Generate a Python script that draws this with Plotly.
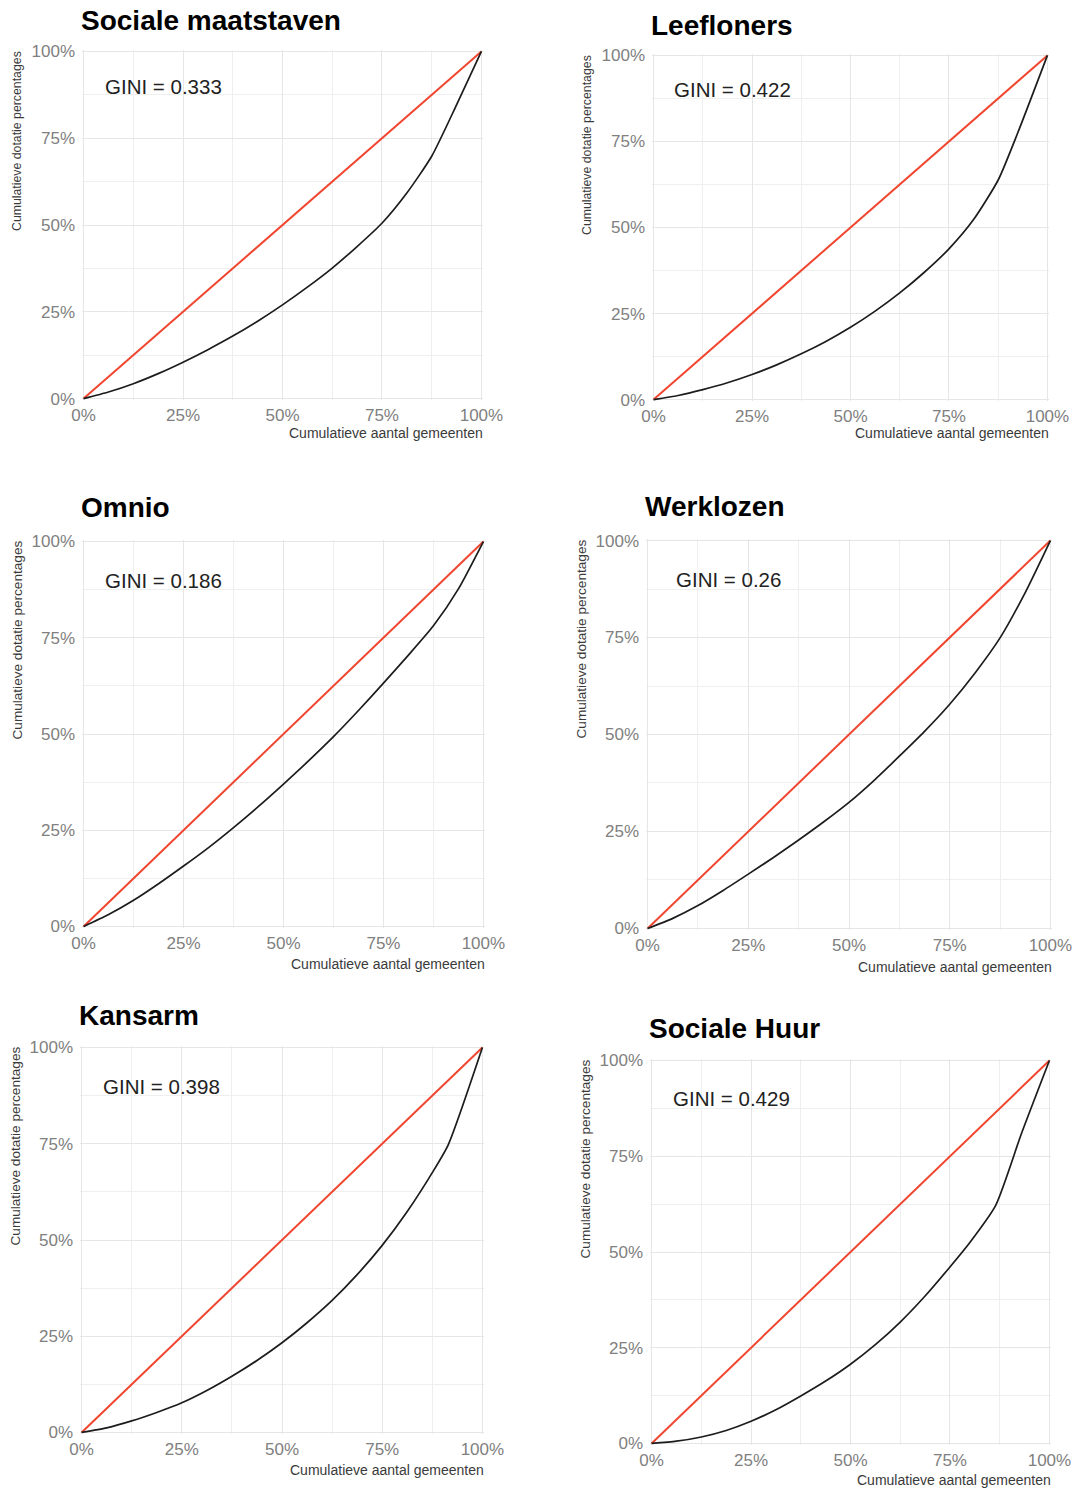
import plotly.graph_objects as go

# ---------------- data ----------------
TITLES = ["Sociale maatstaven", "Leefloners", "Omnio", "Werklozen", "Kansarm", "Sociale Huur"]
GINI = ["0.333", "0.422", "0.186", "0.26", "0.398", "0.429"]

STEPS = [0, 6.25, 12.5, 18.75, 25, 31.25, 37.5, 43.75, 50, 56.25, 62.5, 68.75, 75]

x_sociale_maatstaven = STEPS + [81.25, 87.5, 93.75, 100]
y_sociale_maatstaven = [0, 1.9, 4.3, 7.2, 10.5, 14.1, 18.0, 22.3, 27.0, 32.1, 37.6, 43.8, 50.5, 59.2, 69.8, 84.6, 100]

x_leefloners = STEPS + [81.25, 87.5, 92.5, 100]
y_leefloners = [0, 1.2, 2.9, 4.9, 7.3, 10.1, 13.3, 16.9, 21.0, 25.7, 31.0, 37.0, 43.8, 52.3, 63.8, 77.6, 100]

x_omnio = STEPS + [81.25, 87.5, 93.75, 100]
y_omnio = [0, 3.1, 6.8, 11.1, 15.7, 20.5, 25.7, 31.2, 37.0, 43.0, 49.3, 56.1, 63.2, 70.5, 78.1, 87.7, 100]

x_werklozen = STEPS + [81.25, 87.5, 93.75, 100]
y_werklozen = [0, 2.6, 5.9, 9.8, 14.0, 18.3, 22.8, 27.5, 32.5, 38.2, 44.4, 50.8, 57.8, 65.8, 74.9, 86.6, 100]

x_kansarm = STEPS + [81.25, 87.5, 91.5, 100]
y_kansarm = [0, 1.2, 3.0, 5.2, 7.7, 10.9, 14.6, 18.7, 23.3, 28.5, 34.3, 41.0, 48.6, 57.4, 67.5, 74.8, 100]

x_sociale_huur = STEPS + [80, 86.5, 93, 100]
y_sociale_huur = [0, 0.6, 1.7, 3.4, 5.8, 8.8, 12.4, 16.3, 20.7, 25.8, 31.7, 38.5, 46.1, 52.5, 62.2, 81.0, 100]

EQUALITY = [0, 100]
TICK_VALUES = [0, 25, 50, 75, 100]
TICK_LABELS = ["0%", "25%", "50%", "75%", "100%"]
GINI_POS = (20, 90)

X_TITLE = "Cumulatieve aantal gemeenten"
Y_TITLE = "Cumulatieve dotatie percentages"

CURVES = [
    (x_sociale_maatstaven, y_sociale_maatstaven),
    (x_leefloners, y_leefloners),
    (x_omnio, y_omnio),
    (x_werklozen, y_werklozen),
    (x_kansarm, y_kansarm),
    (x_sociale_huur, y_sociale_huur),
]

# ---------------- layout (pixel boxes of each plot area) ----------------
W, H = 1078, 1490
BOXES = [  # left, right, top, bottom
    (82, 483, 50, 400),
    (652, 1049, 54, 401),
    (82, 485, 540, 928),
    (646, 1052, 539, 930),
    (80, 484, 1046, 1434),
    (650, 1051, 1059, 1445),
]
TITLE_OFF = [29, 29, 32, 33, 31, 31]
XTITLE_OFF = [33, 32, 36, 37, 36, 35]
YTITLE_SIZE = [12.3, 12.3, 13.6, 13.6, 13.6, 13.6]

FONT = "Liberation Sans, Arial, sans-serif"
RED = "#f0462f"
fig = go.Figure()
layout = dict(template="none", width=W, height=H,
              margin=dict(l=0, r=0, t=0, b=0, pad=0, autoexpand=False),
              plot_bgcolor="white", paper_bgcolor="white", showlegend=False)
annotations = []

for i, ((cx, cy), (l, r, t, b)) in enumerate(zip(CURVES, BOXES)):
    n = "" if i == 0 else str(i + 1)
    xa, ya = "x" + n, "y" + n
    fig.add_trace(go.Scatter(x=EQUALITY, y=EQUALITY, mode="lines",
                             line=dict(color=RED, width=2), xaxis=xa, yaxis=ya,
                             hoverinfo="skip"))
    fig.add_trace(go.Scatter(x=cx, y=cy, mode="lines",
                             line=dict(color="#1c1c1c", width=1.7, shape="spline", smoothing=0.6),
                             xaxis=xa, yaxis=ya))
    common = dict(range=[-0.4, 100.4], tickvals=TICK_VALUES, ticktext=TICK_LABELS,
                  showgrid=True, gridcolor="#e6e6e6", gridwidth=1,
                  minor=dict(dtick=12.5, tick0=0, showgrid=True, gridcolor="#efefef", gridwidth=0.8),
                  zeroline=False, showline=False, ticks="", automargin=False,
                  tickfont=dict(family=FONT, size=17, color="#808080"),
                  fixedrange=True)
    layout["xaxis" + n] = dict(common, domain=[l / W, r / W], anchor=ya, ticklabelstandoff=3)
    layout["yaxis" + n] = dict(common, domain=[1 - b / H, 1 - t / H], anchor=xa, ticklabelstandoff=6)

    # title
    annotations.append(dict(text="<b>" + TITLES[i] + "</b>", xref=xa + " domain", yref=ya + " domain",
                            x=0, y=1, xanchor="left", yanchor="middle", xshift=-3, yshift=TITLE_OFF[i],
                            showarrow=False, font=dict(family=FONT, size=28, color="#000000")))
    # gini
    annotations.append(dict(text="GINI = " + GINI[i], xref=xa, yref=ya, x=GINI_POS[0], y=GINI_POS[1],
                            xanchor="center", yanchor="middle", showarrow=False,
                            font=dict(family=FONT, size=20.5, color="#222222")))
    # x title
    annotations.append(dict(text=X_TITLE, xref=xa + " domain", yref=ya + " domain", x=1, y=0,
                            xanchor="right", yanchor="middle", xshift=2, yshift=-XTITLE_OFF[i],
                            showarrow=False, font=dict(family=FONT, size=14, color="#3a3a3a")))
    # y title
    annotations.append(dict(text=Y_TITLE, xref=xa + " domain", yref=ya + " domain", x=0, y=1,
                            xanchor="center", yanchor="top", xshift=-65, yshift=1, textangle=-90,
                            showarrow=False, font=dict(family=FONT, size=YTITLE_SIZE[i], color="#3a3a3a")))

layout["annotations"] = annotations
fig.update_layout(**layout)
fig.write_html("out.html", config={"displayModeBar": False},
               post_script="document.body.style.margin='0px';document.body.style.overflow='hidden';")
